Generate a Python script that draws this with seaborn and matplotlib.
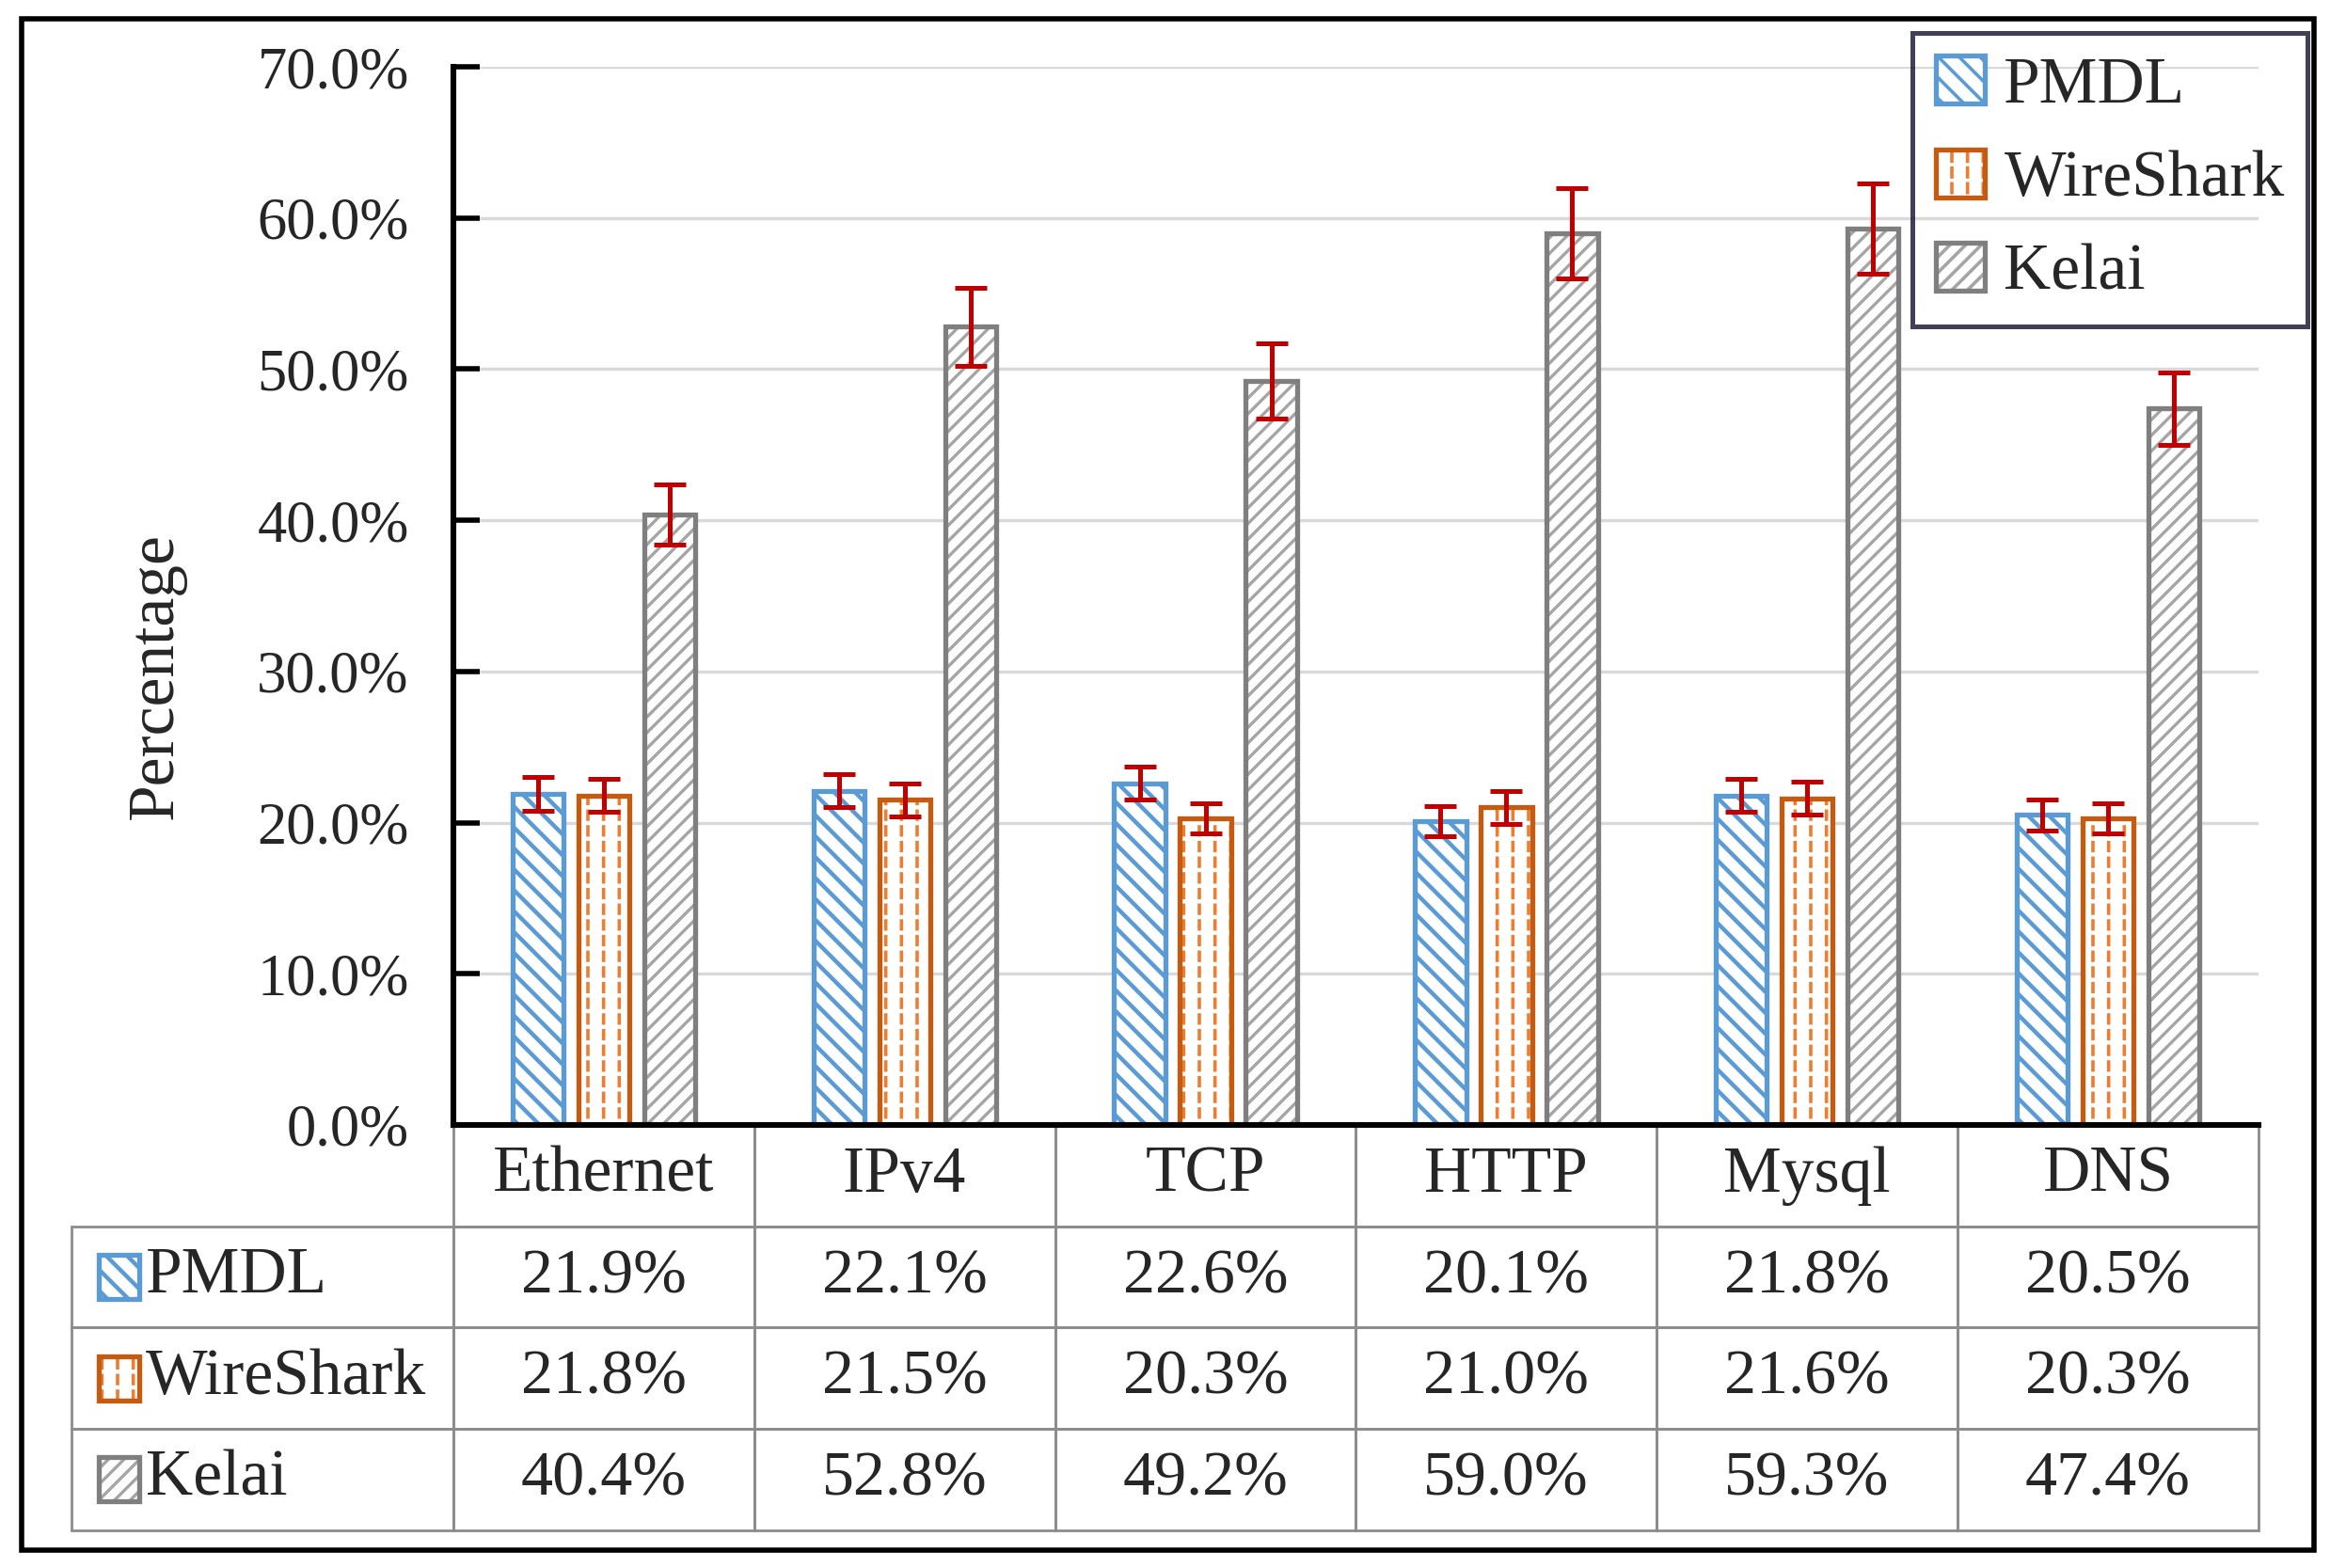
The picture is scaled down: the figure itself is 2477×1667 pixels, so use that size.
import numpy as np
import pandas as pd
import matplotlib
matplotlib.use('Agg')
import matplotlib.pyplot as plt
import seaborn as sns
from matplotlib.patches import Rectangle
from matplotlib.legend_handler import HandlerTuple

# data
protocols = ['Ethernet', 'IPv4', 'TCP', 'HTTP', 'Mysql', 'DNS']
tools = ['PMDL', 'WireShark', 'Kelai']
pmdl = [21.9, 22.1, 22.6, 20.1, 21.8, 20.5]
wireshark = [21.8, 21.5, 20.3, 21.0, 21.6, 20.3]
kelai = [40.4, 52.8, 49.2, 59.0, 59.3, 47.4]
err_pmdl = [1.1, 1.1, 1.1, 1.0, 1.1, 1.0]
err_wireshark = [1.1, 1.1, 1.0, 1.1, 1.1, 1.0]
err_kelai = [2.0, 2.6, 2.5, 3.0, 3.0, 2.4]

values = {'PMDL': pmdl, 'WireShark': wireshark, 'Kelai': kelai}
errors = {'PMDL': err_pmdl, 'WireShark': err_wireshark, 'Kelai': err_kelai}

# style per tool: edge colour, hatch colour, hatch pattern, hatch width
edge_col = {'PMDL': '#5B9BD5', 'WireShark': '#C55A11', 'Kelai': '#7F7F7F'}
hatch_col = {'PMDL': '#5B9BD5', 'WireShark': '#ED7D31', 'Kelai': '#A5A5A5'}
hatch_pat = {'PMDL': '\\' * 3, 'WireShark': '||', 'Kelai': '/' * 4}
hatch_lw = {'PMDL': 1.6, 'WireShark': 1.3, 'Kelai': 1.2}

df = pd.DataFrame({
    'protocol': protocols * 3,
    'tool': [t for t in tools for _ in protocols],
    'value': pmdl + wireshark + kelai,
})

sns.set_theme(style='white')
plt.rcParams['font.family'] = ['Liberation Serif', 'DejaVu Serif']
plt.rcParams['hatch.linewidth'] = 1.3

fig = plt.figure(figsize=(2477 / 200, 1667 / 200), dpi=200)
ax = fig.add_axes([0.1946, 0.2826, 0.7747, 0.6748])

sns.barplot(data=df, x='protocol', y='value', hue='tool', order=protocols,
            hue_order=tools, palette={t: 'white' for t in tools},
            width=0.657, gap=0.224, errorbar=None, legend=False, ax=ax)


def style_bar(p, tool):
    """hatch on the patch itself, then extra patches for dashes + outline"""
    out = []
    p.set_facecolor('white')
    p.set_edgecolor(hatch_col[tool])
    p.set_linewidth(0)
    p.set_hatch(hatch_pat[tool])
    if hasattr(p, 'set_hatch_linewidth'):
        p.set_hatch_linewidth(hatch_lw[tool])
    out.append(p)
    if tool == 'WireShark':
        # white horizontal hatch over the vertical lines -> dashed look
        w = Rectangle(p.get_xy(), p.get_width(), p.get_height(), facecolor='none',
                      edgecolor='white', lw=0, hatch='--', zorder=p.get_zorder() + 0.1)
        if hasattr(w, 'set_hatch_linewidth'):
            w.set_hatch_linewidth(1.6)
        out.append(w)
    o = Rectangle(p.get_xy(), p.get_width(), p.get_height(), fill=False,
                  edgecolor=edge_col[tool], lw=1.9, zorder=p.get_zorder() + 0.2)
    out.append(o)
    return out


for container, tool in zip(ax.containers, tools):
    xs, ys = [], []
    for bar in container:
        parts = style_bar(bar, tool)
        for extra in parts[1:]:
            ax.add_patch(extra)
        xs.append(bar.get_x() + bar.get_width() / 2)
        ys.append(bar.get_height())
    ax.errorbar(xs, ys, yerr=errors[tool], fmt='none', ecolor='#C00000',
                elinewidth=1.8, capsize=6, capthick=1.8, zorder=6)

ax.set_ylim(0, 70)
ax.set_yticks(np.arange(0, 71, 10))
ax.set_yticklabels([f'{v:.1f}%' for v in np.arange(0, 71, 10)], fontsize=22.5)
ax.tick_params(axis='y', direction='in', length=10, width=2, color='black', pad=17, left=True)
ax.tick_params(axis='x', bottom=False, labelbottom=False)
ax.set_xlabel('')
ax.set_ylabel('')
ax.yaxis.grid(True, color='#D9D9D9', lw=1.2)
ax.set_axisbelow(True)
for s in ['top', 'right']:
    ax.spines[s].set_visible(False)
for s in ['left', 'bottom']:
    ax.spines[s].set_color('black')
    ax.spines[s].set_linewidth(2.2)
    ax.spines[s].set_zorder(20)

ax.text(-0.1647, 0.424, 'Percentage', rotation=90, ha='center', va='center',
        fontsize=25, transform=ax.transAxes)

# data table under the bars
cell_text = [[''] + protocols]
for t in tools:
    cell_text.append([''] + [f'{v:.1f}%' for v in values[t]])
tbl = ax.table(cellText=cell_text, cellLoc='center', colWidths=[406] + [320] * 6,
               bbox=[-0.2116, -0.3831, 1.2116, 0.3831])
tbl.auto_set_font_size(False)
tbl.set_fontsize(24.5)
for (r, c), cell in tbl.get_celld().items():
    cell.set_edgecolor('#8C8C8C')
    cell.set_linewidth(1.0)
    cell.set_facecolor('none')
    if r == 0:
        cell.get_text().set_fontsize(25)
        if c == 0:
            cell.visible_edges = 'open'

for i, t in enumerate(tools):
    yc = -0.3831 * (i + 1.5) / 4
    sw = Rectangle((-0.1965, yc - 0.0209), 0.0225, 0.0418)
    for p in style_bar(sw, t):
        p.set_transform(ax.transAxes)
        p.set_clip_on(False)
        ax.add_artist(p)
    ax.text(-0.1704, yc, t, ha='left', va='center', fontsize=25, transform=ax.transAxes)

# legend
handles = []
for t in tools:
    proxy = Rectangle((0, 0), 1, 1)
    handles.append(tuple(style_bar(proxy, t)))
leg = ax.legend(handles, tools, loc='upper right', bbox_to_anchor=(0.9903, 0.979),
                bbox_transform=fig.transFigure, fontsize=25, frameon=True, fancybox=False,
                edgecolor='#101030', facecolor='none', borderpad=0.35, labelspacing=0.5,
                handlelength=0.75, handleheight=0.75, handletextpad=0.3, borderaxespad=0,
                handler_map={tuple: HandlerTuple(ndivide=1)})
leg.get_frame().set_linewidth(1.8)

ax.set_xlim(-0.5, len(protocols) - 0.5)

fig.add_artist(Rectangle((0.0093, 0.0114), 0.9838, 0.9766, transform=fig.transFigure,
                         fill=False, edgecolor='black', lw=2.0))

fig.savefig('out.png', dpi=200)
